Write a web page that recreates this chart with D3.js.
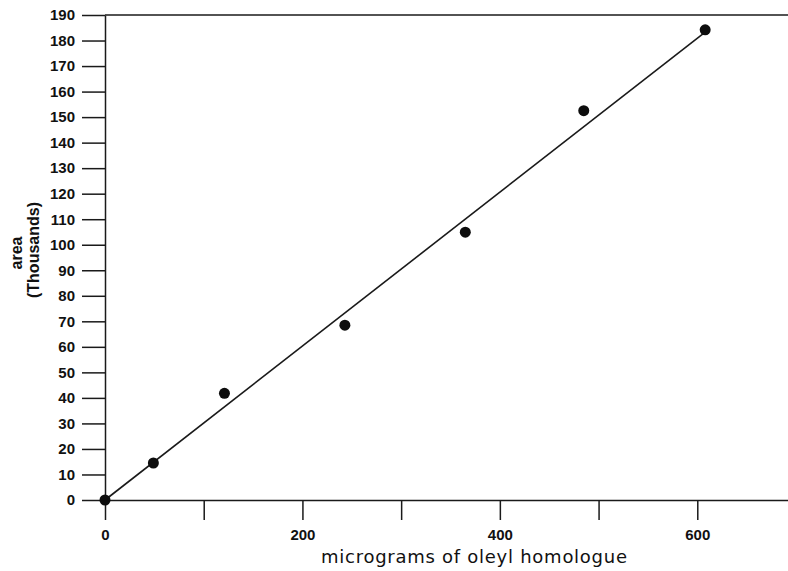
<!DOCTYPE html>
<html>
<head>
<meta charset="utf-8">
<script src="https://cdn.jsdelivr.net/npm/d3@7"></script>
<style>
  body { margin: 0; background: #fff; }
  svg { display: block; }
  .tick text { font-family: "Liberation Sans", Arial, sans-serif; font-size: 15px; font-weight: bold; fill: #111; }
</style>
</head>
<body>
<div id="chart"></div>
<script>
// measured points: micrograms vs area (thousands)
const micrograms = [0, 49, 121, 243, 365, 485, 608];
const areaThousands = [0, 14.5, 41.8, 68.5, 104.9, 152.5, 184.2];
// fitted line end points
const fitX = [0, 608];
const fitY = [0, 183.3];
const yTicks = d3.range(0, 191, 10);
const xTicks = [0, 100, 200, 300, 400, 500, 600, 700];
const xLabels = [0, 200, 400, 600];

const width = 788, height = 571;
const svg = d3.select("#chart").append("svg")
    .attr("width", width)
    .attr("height", height);

const x = d3.scaleLinear().domain([0, 700]).range([105, 796]);
const y = d3.scaleLinear().domain([0, 190]).range([500, 15]);

const ink = "#1a1a1a";

// y axis
svg.append("g")
    .attr("transform", `translate(${x(0)},0)`)
    .call(d3.axisLeft(y).tickValues(yTicks).tickSize(23).tickSizeOuter(0).tickPadding(7));

// x axis
svg.append("g")
    .attr("transform", `translate(0,${y(0)})`)
    .call(d3.axisBottom(x).tickValues(xTicks).tickSize(20).tickSizeOuter(0).tickPadding(9)
        .tickFormat(d => xLabels.includes(d) ? d : ""));

svg.selectAll(".domain, .tick line")
    .attr("stroke", ink)
    .attr("stroke-width", 1.5);

// top frame line
svg.append("line")
    .attr("x1", x(0)).attr("x2", x(700))
    .attr("y1", y(190)).attr("y2", y(190))
    .attr("stroke", ink)
    .attr("stroke-width", 1.5);

// fitted line
const fit = fitX.map((d, i) => [d, fitY[i]]);
svg.append("path")
    .datum(fit)
    .attr("fill", "none")
    .attr("stroke", ink)
    .attr("stroke-width", 1.6)
    .attr("d", d3.line().x(d => x(d[0])).y(d => y(d[1])));

// points
svg.append("g").selectAll("circle")
    .data(micrograms.map((d, i) => [d, areaThousands[i]]))
    .join("circle")
    .attr("cx", d => x(d[0]))
    .attr("cy", d => y(d[1]))
    .attr("r", 5.5)
    .attr("fill", "#0d0d0d");

// axis titles
const yTitle = svg.append("g")
    .attr("font-family", "Liberation Sans, Arial, sans-serif")
    .attr("font-size", 16)
    .attr("font-weight", "bold")
    .attr("fill", "#111")
    .attr("text-anchor", "middle");
yTitle.append("text")
    .attr("transform", "translate(22,253) rotate(-90)")
    .text("area");
yTitle.append("text")
    .attr("transform", "translate(39,250) rotate(-90)")
    .text("(Thousands)");

svg.append("text")
    .attr("x", 474)
    .attr("y", 563)
    .attr("text-anchor", "middle")
    .attr("font-family", "DejaVu Sans, sans-serif")
    .attr("font-size", 18)
    .attr("fill", "#111")
    .attr("textLength", 306)
    .attr("lengthAdjust", "spacing")
    .text("micrograms of oleyl homologue");
</script>
</body>
</html>
